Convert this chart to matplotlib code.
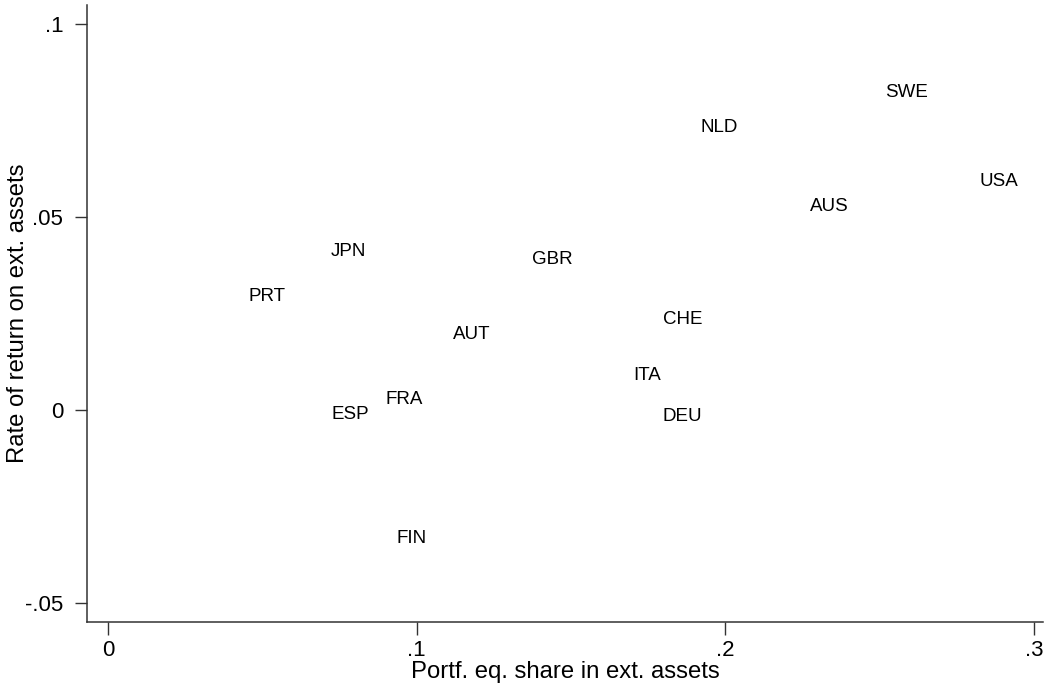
import numpy as np
import matplotlib
matplotlib.use("Agg")
import matplotlib.pyplot as plt

plt.rcParams['font.family'] = ['Liberation Sans', 'DejaVu Sans']

# country codes and their coordinates (portfolio equity share, rate of return)
countries = ['PRT', 'JPN', 'AUT', 'FRA', 'ESP', 'GBR', 'NLD', 'SWE',
             'USA', 'AUS', 'CHE', 'ITA', 'DEU', 'FIN']
eq_share = [0.0434, 0.0702, 0.1098, 0.0879, 0.0705, 0.1355, 0.1899, 0.2498,
            0.2804, 0.2253, 0.1778, 0.1681, 0.1777, 0.0916]
ret_rate = [0.0293, 0.0411, 0.0195, 0.0026, -0.0013, 0.0389, 0.0733, 0.0822,
            0.0592, 0.0528, 0.0234, 0.0088, -0.0016, -0.0333]

xticks = [0, 0.1, 0.2, 0.3]
xticklabels = ['0', '.1', '.2', '.3']
yticks = [-0.05, 0, 0.05, 0.1]
yticklabels = ['-.05', '0', '.05', '.1']

fig = plt.figure(figsize=(10.53, 6.88), dpi=100)
ax = fig.add_axes([0.0826, 0.0959, 0.908, 0.8968])

# no visible markers, only the labels to the right of each point
ax.scatter(eq_share, ret_rate, s=0)
for name, x, y in zip(countries, eq_share, ret_rate):
    ax.annotate(name, (x, y), xytext=(4.5, 0), textcoords='offset points',
                ha='left', va='center', fontsize=13.5, color='black')

ax.set_xlim(-0.0068, 0.303)
ax.set_ylim(-0.055, 0.105)
ax.set_xticks(xticks)
ax.set_xticklabels(xticklabels)
ax.set_yticks(yticks)
ax.set_yticklabels(yticklabels)

for side in ['top', 'right']:
    ax.spines[side].set_visible(False)
for side in ['left', 'bottom']:
    ax.spines[side].set_color('#333333')
    ax.spines[side].set_linewidth(1.1)

ax.tick_params(axis='both', direction='out', length=9, width=1.0,
               color='#333333', labelsize=16)
ax.tick_params(axis='y', pad=8)
ax.tick_params(axis='x', pad=4)

ax.set_xlabel('Portf. eq. share in ext. assets', fontsize=17.2, labelpad=0)
ax.set_ylabel('Rate of return on ext. assets', fontsize=17.2)
ax.yaxis.set_label_coords(-0.061, 0.5)

fig.savefig('out.png', dpi=100, facecolor='white')
